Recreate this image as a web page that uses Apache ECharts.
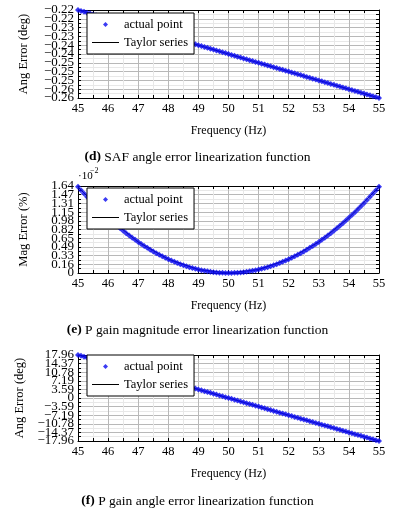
<!DOCTYPE html>
<html><head><meta charset="utf-8">
<script src="https://cdn.jsdelivr.net/npm/echarts@6/dist/echarts.min.js"></script>
<style>html,body{margin:0;padding:0;background:#fff}#c{width:395px;height:527px}</style>
</head><body><div id="c"></div>
<script>
const freq = [45.0,45.1,45.2,45.3,45.4,45.5,45.6,45.7,45.8,45.9,
46.0,46.1,46.2,46.3,46.4,46.5,46.6,46.7,46.8,46.9,
47.0,47.1,47.2,47.3,47.4,47.5,47.6,47.7,47.8,47.9,
48.0,48.1,48.2,48.3,48.4,48.5,48.6,48.7,48.8,48.9,
49.0,49.1,49.2,49.3,49.4,49.5,49.6,49.7,49.8,49.9,
50.0,50.1,50.2,50.3,50.4,50.5,50.6,50.7,50.8,50.9,
51.0,51.1,51.2,51.3,51.4,51.5,51.6,51.7,51.8,51.9,
52.0,52.1,52.2,52.3,52.4,52.5,52.6,52.7,52.8,52.9,
53.0,53.1,53.2,53.3,53.4,53.5,53.6,53.7,53.8,53.9,
54.0,54.1,54.2,54.3,54.4,54.5,54.6,54.7,54.8,54.9,55.0];

const safAngle = [-0.2200,-0.2204,-0.2208,-0.2212,-0.2216,-0.2220,-0.2224,-0.2228,-0.2232,-0.2236,
-0.2240,-0.2244,-0.2248,-0.2252,-0.2256,-0.2260,-0.2264,-0.2268,-0.2272,-0.2276,
-0.2280,-0.2284,-0.2288,-0.2292,-0.2296,-0.2300,-0.2304,-0.2308,-0.2312,-0.2316,
-0.2320,-0.2324,-0.2328,-0.2332,-0.2336,-0.2340,-0.2344,-0.2348,-0.2352,-0.2356,
-0.2360,-0.2364,-0.2368,-0.2372,-0.2376,-0.2380,-0.2384,-0.2388,-0.2392,-0.2396,
-0.2400,-0.2404,-0.2408,-0.2412,-0.2416,-0.2420,-0.2424,-0.2428,-0.2432,-0.2436,
-0.2440,-0.2444,-0.2448,-0.2452,-0.2456,-0.2460,-0.2464,-0.2468,-0.2472,-0.2476,
-0.2480,-0.2484,-0.2488,-0.2492,-0.2496,-0.2500,-0.2504,-0.2508,-0.2512,-0.2516,
-0.2520,-0.2524,-0.2528,-0.2532,-0.2536,-0.2540,-0.2544,-0.2548,-0.2552,-0.2556,
-0.2560,-0.2564,-0.2568,-0.2572,-0.2576,-0.2580,-0.2584,-0.2588,-0.2592,-0.2596,-0.2600];

const pGainMag = [1.625,1.5607,1.4976,1.4359,1.3754,1.3163,1.2584,1.2019,1.1466,1.0927,
1.04,0.9887,0.9386,0.8899,0.8424,0.7963,0.7514,0.7079,0.6656,0.6247,
0.585,0.5467,0.5096,0.4739,0.4394,0.4063,0.3744,0.3439,0.3146,0.2867,
0.26,0.2347,0.2106,0.1879,0.1664,0.1463,0.1274,0.1099,0.0936,0.0787,
0.065,0.0527,0.0416,0.0319,0.0234,0.0163,0.0104,0.0059,0.0026,0.0007,
0,
0.0007,0.0026,0.0059,0.0104,0.0163,0.0234,0.0319,0.0416,0.0527,0.065,
0.0787,0.0936,0.1099,0.1274,0.1463,0.1664,0.1879,0.2106,0.2347,0.26,
0.2867,0.3146,0.3439,0.3744,0.4063,0.4394,0.4739,0.5096,0.5467,0.585,
0.6247,0.6656,0.7079,0.7514,0.7963,0.8424,0.8899,0.9386,0.9887,1.04,
1.0927,1.1466,1.2019,1.2584,1.3163,1.3754,1.4359,1.4976,1.5607,1.625];

const pGainAngle = [17.96,17.60,17.24,16.88,16.52,16.16,15.81,15.45,15.09,14.73,
14.37,14.01,13.65,13.29,12.93,12.57,12.21,11.85,11.49,11.14,
10.78,10.42,10.06,9.70,9.34,8.98,8.62,8.26,7.90,7.54,
7.18,6.83,6.47,6.11,5.75,5.39,5.03,4.67,4.31,3.95,
3.59,3.23,2.87,2.51,2.16,1.80,1.44,1.08,0.72,0.36,
0,
-0.36,-0.72,-1.08,-1.44,-1.80,-2.16,-2.51,-2.87,-3.23,-3.59,
-3.95,-4.31,-4.67,-5.03,-5.39,-5.75,-6.11,-6.47,-6.83,-7.18,
-7.54,-7.90,-8.26,-8.62,-8.98,-9.34,-9.70,-10.06,-10.42,-10.78,
-11.14,-11.49,-11.85,-12.21,-12.57,-12.93,-13.29,-13.65,-14.01,-14.37,
-14.73,-15.09,-15.45,-15.81,-16.16,-16.52,-16.88,-17.24,-17.60,-17.96];

const taylorFreq = [45,46,47,48,49,50,51,52,53,54,55];
const taylorSafAngle = [-0.2200,-0.2240,-0.2280,-0.2320,-0.2360,-0.2400,-0.2440,-0.2480,-0.2520,-0.2560,-0.2600];
const taylorPGainMag = [1.625,1.04,0.585,0.26,0.065,0,0.065,0.26,0.585,1.04,1.625];
const taylorPGainAngle = [17.96,14.37,10.78,7.18,3.59,0,-3.59,-7.18,-10.78,-14.37,-17.96];

const xTickLabels = ['45','46','47','48','49','50','51','52','53','54','55'];
const safTickLabels = ['\u22120.26','\u22120.26','\u22120.25','\u22120.25','\u22120.25','\u22120.24','\u22120.24','\u22120.23','\u22120.23','\u22120.22','\u22120.22'];
const magTickLabels = ['0','0.16','0.33','0.49','0.65','0.82','0.98','1.15','1.31','1.47','1.64'];
const angTickLabels = ['\u221217.96','\u221214.37','\u221210.78','\u22127.19','\u22123.59','0','3.59','7.19','10.78','14.37','17.96'];

const seriesNames = ['actual point','Taylor series'];
const xName = 'Frequency (Hz)';
const yNames = ['Ang Error (deg)','Mag Error (%)','Ang Error (deg)'];
const captionTags = ['(d)','(e)','(f)'];
const captionTexts = [' SAF angle error linearization function',' P gain magnitude error linearization function',' P gain angle error linearization function'];

const FONT = '"Liberation Serif","DejaVu Serif",serif';
const panels = [
  {top:10, height:88, min:-0.26, max:-0.22, interval:0.004, ticks:safTickLabels, data:safAngle, tdata:taylorSafAngle, legendTop:13, capY:159},
  {top:186, height:87, min:0, max:1.64, interval:0.164, ticks:magTickLabels, data:pGainMag, tdata:taylorPGainMag, legendTop:188, capY:332},
  {top:355, height:86, min:-17.96, max:17.96, interval:3.592, ticks:angTickLabels, data:pGainAngle, tdata:taylorPGainAngle, legendTop:355, capY:503}
];

const grid=[], xAxis=[], yAxis=[], series=[], legend=[], graphic=[];
const tickStyle = {show:true, inside:true, length:3, lineStyle:{color:'#000', width:1}};
const minorTickStyle = {show:true, splitNumber:2, length:3, lineStyle:{color:'#000', width:1}};
panels.forEach((p,i)=>{
  grid.push({left:78, width:301, top:p.top, height:p.height});
  const xBase = {gridIndex:i, type:'value', min:45, max:55, interval:1,
    axisLine:{show:true, onZero:false, lineStyle:{color:'#000', width:1}},
    axisTick:tickStyle, minorTick:minorTickStyle};
  xAxis.push(Object.assign({}, xBase, {position:'bottom',
    axisLabel:{show:true, margin:4, color:'#000', fontFamily:FONT, fontSize:12.5, showMinLabel:true, showMaxLabel:true,
      formatter:v=>xTickLabels[Math.round(v-45)]},
    splitLine:{show:true, lineStyle:{color:'#b8b8b8', width:1}},
    minorSplitLine:{show:true, lineStyle:{color:'#e8e8e8', width:1}},
    name:xName, nameLocation:'middle', nameGap:27,
    nameTextStyle:{color:'#000', fontFamily:FONT, fontSize:12}}));
  xAxis.push(Object.assign({}, xBase, {position:'top', axisLabel:{show:false}, splitLine:{show:false}}));
  const yBase = {gridIndex:i, type:'value', min:p.min, max:p.max, interval:p.interval,
    axisLine:{show:true, onZero:false, lineStyle:{color:'#000', width:1}},
    axisTick:tickStyle, minorTick:minorTickStyle};
  const labelFmt = v=>p.ticks[Math.round((v-p.min)/p.interval)];
  yAxis.push(Object.assign({}, yBase, {position:'left',
    axisLabel:{show:true, margin:4, color:'#000', fontFamily:FONT, fontSize:13, hideOverlap:false,
      showMinLabel:false, showMaxLabel:false, formatter:labelFmt},
    splitLine:{show:true, lineStyle:{color:'#b8b8b8', width:1}},
    minorSplitLine:{show:true, lineStyle:{color:'#e8e8e8', width:1}},
    name:yNames[i], nameLocation:'middle', nameGap:48,
    nameTextStyle:{color:'#000', fontFamily:FONT, fontSize:12.5}}));
  yAxis.push(Object.assign({}, yBase, {position:'right', axisLabel:{show:false}, splitLine:{show:false}}));
  yAxis.push({gridIndex:i, type:'value', min:p.min, max:p.max, interval:p.interval, position:'left',
    axisLine:{show:false}, axisTick:{show:false}, splitLine:{show:false},
    axisLabel:{show:true, margin:4, color:'#000', fontFamily:FONT, fontSize:13, hideOverlap:false,
      showMinLabel:true, showMaxLabel:true,
      formatter:v=>{const k=Math.round((v-p.min)/p.interval); return (k===0||k===p.ticks.length-1)?p.ticks[k]:'';}}});
  series.push({name:seriesNames[1], type:'line', xAxisIndex:2*i, yAxisIndex:3*i,
    data:taylorFreq.map((f,k)=>[f,p.tdata[k]]), showSymbol:false, symbol:'none',
    lineStyle:{color:'#000', width:1}, itemStyle:{color:'#000'}, z:2, animation:false});
  series.push({name:seriesNames[0], type:'scatter', xAxisIndex:2*i, yAxisIndex:3*i,
    data:freq.map((f,k)=>[f,p.data[k]]), symbol:'diamond', symbolSize:6,
    itemStyle:{color:'#0a0af0'}, z:3, animation:false});
  legend.push({left:87, top:p.legendTop, orient:'vertical',
    data:[{name:seriesNames[0], icon:'path://M5,0L10,5L5,10L0,5Z', itemStyle:{color:'#0a0af0'}},
          {name:seriesNames[1], icon:'path://M0,0H54V2H0Z', itemStyle:{color:'#000'}}],
    symbolKeepAspect:true,
    backgroundColor:'#fff', borderColor:'#000', borderWidth:1, borderRadius:0,
    padding:[5,6,5,5], itemGap:5, itemWidth:27, itemHeight:5, selectedMode:false,
    textStyle:{color:'#000', fontFamily:FONT, fontSize:12.5}});
  graphic.push({type:'text', left:'center', top:p.capY-9, z:10,
    style:{text:'{b|'+captionTags[i]+'}'+captionTexts[i], fill:'#000', font:'13.5px '+FONT,
      rich:{b:{fontWeight:'bold', fontFamily:FONT, fontSize:13.5}}}});
});
graphic.push({type:'text', x:78, y:176, style:{text:'\u00b710', fill:'#000', font:'11px '+FONT, textVerticalAlign:'middle'}});
graphic.push({type:'text', x:90, y:171, style:{text:'\u22122', fill:'#000', font:'8px '+FONT, textVerticalAlign:'middle'}});

const chart = echarts.init(document.getElementById('c'), null, {renderer:'canvas'});
chart.setOption({animation:false, backgroundColor:'#fff', grid, xAxis, yAxis, series, legend, graphic});
</script></body></html>
